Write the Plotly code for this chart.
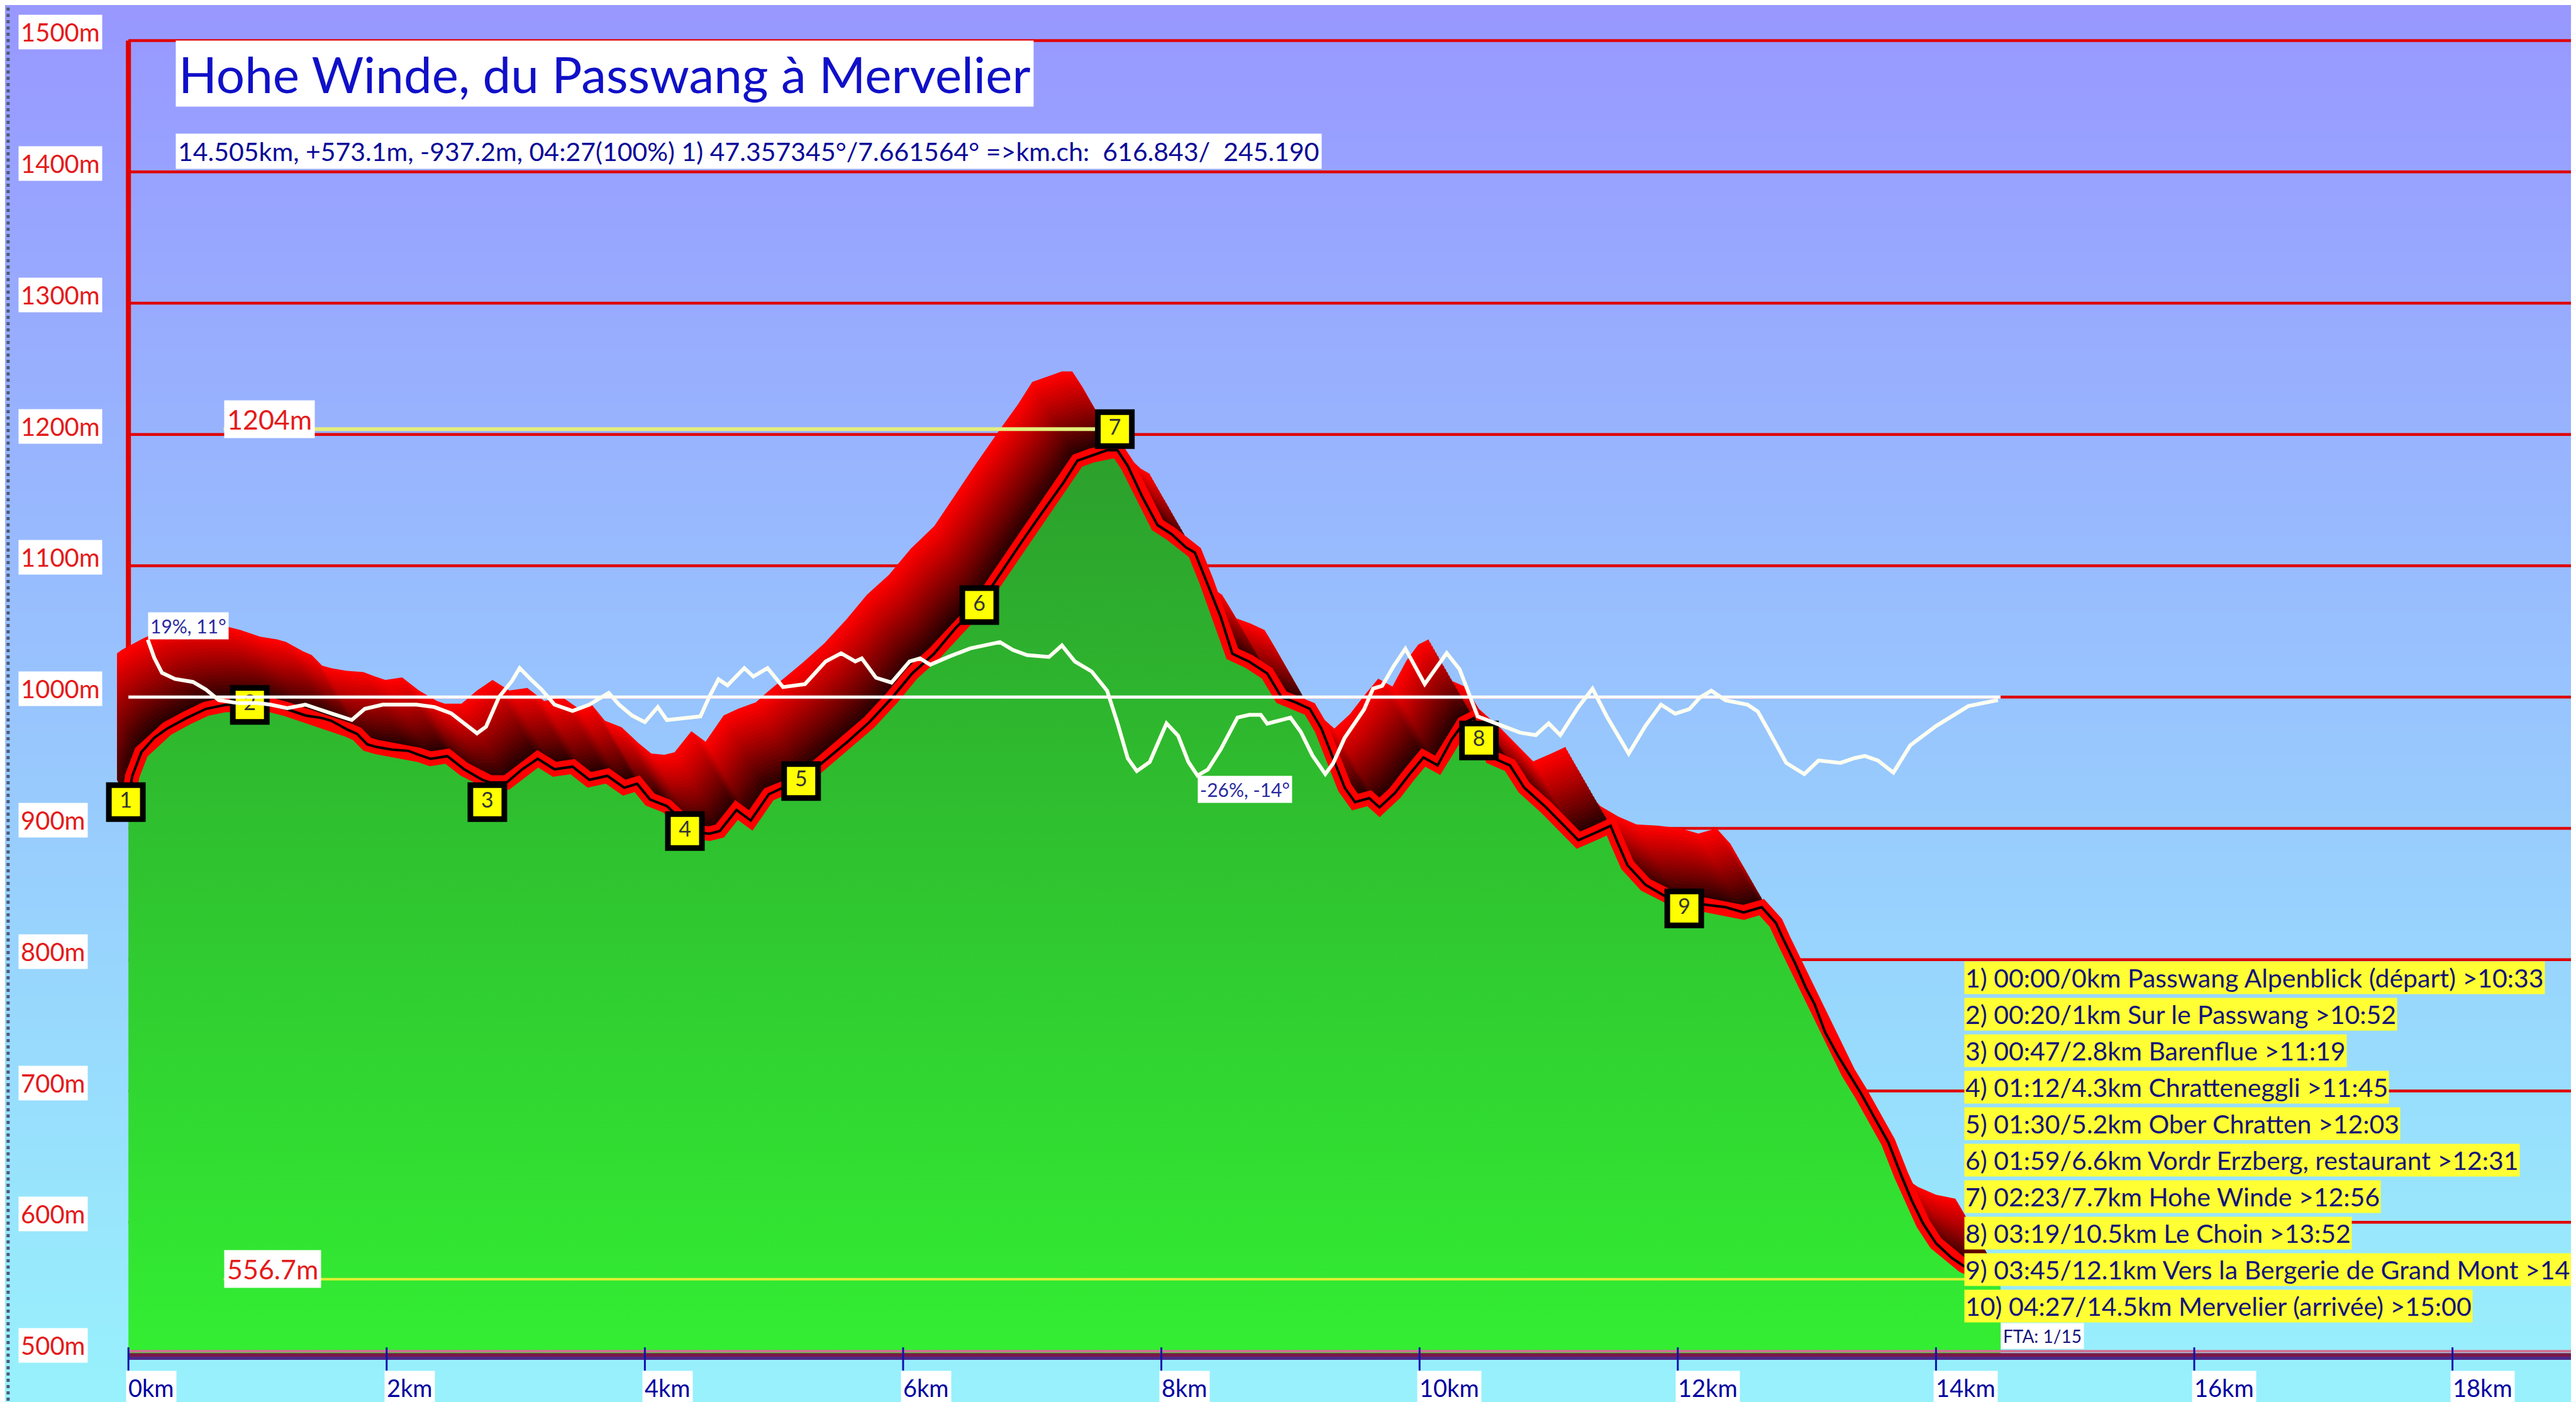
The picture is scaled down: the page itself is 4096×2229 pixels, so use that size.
import math, zlib, struct, base64
import plotly.graph_objects as go

# ---------------- data ----------------
profile_km = [0.00, 0.03, 0.10, 0.20, 0.30, 0.45, 0.60, 0.75, 0.93, 1.10, 1.22, 1.37, 1.50, 1.57, 1.70, 1.77, 1.85, 1.92, 2.04, 2.17,
              2.25, 2.34, 2.47, 2.60, 2.74, 2.80, 2.93, 3.05, 3.17, 3.30, 3.44, 3.57, 3.71, 3.84, 3.94, 4.04, 4.17, 4.30, 4.40, 4.50,
              4.58, 4.71, 4.82, 4.96, 5.07, 5.21, 5.30, 5.40, 5.57, 5.74, 5.91, 6.07, 6.24, 6.41, 6.59, 6.74, 6.91, 7.08, 7.24, 7.35,
              7.46, 7.58, 7.66, 7.74, 7.85, 7.97, 8.08, 8.19, 8.26, 8.35, 8.46, 8.55, 8.68, 8.82, 8.93, 9.04, 9.15, 9.24, 9.33, 9.42,
              9.50, 9.61, 9.69, 9.81, 9.92, 10.03, 10.14, 10.25, 10.34, 10.42, 10.48, 10.56, 10.70, 10.81, 10.98, 11.12, 11.23, 11.37,
              11.48, 11.53, 11.61, 11.75, 11.89, 12.03, 12.20, 12.37, 12.51, 12.65, 12.76, 12.82, 12.91, 12.99, 13.06, 13.14, 13.24,
              13.32, 13.42, 13.51, 13.63, 13.73, 13.81, 13.90, 14.00, 14.12, 14.21, 14.35, 14.50]
profile_elev = [922, 940, 958, 969, 976, 984, 991, 994, 995, 994, 991, 986, 984, 982, 975, 972, 964, 962, 960, 959,
                956, 953, 955, 945, 937, 935, 935, 945, 953, 945, 947, 937, 940, 931, 934, 922, 917, 905, 897, 896,
                898, 914, 906, 926, 931, 936, 944, 952, 966, 981, 999, 1018, 1033, 1053, 1070, 1092, 1117, 1141, 1163, 1180,
                1184, 1188, 1188, 1176, 1153, 1131, 1124, 1114, 1110, 1088, 1061, 1033, 1027, 1018, 1000, 996, 991, 976, 953, 931,
                920, 923, 916, 927, 941, 954, 948, 968, 980, 984, 968, 954, 948, 931, 916, 902, 891, 897,
                902, 890, 872, 857, 849, 843, 842, 840, 836, 840, 828, 815, 797, 779, 766, 745, 727,
                714, 698, 682, 661, 636, 617, 599, 584, 573, 567, 561, 558]

slope_km = [0.15, 0.20, 0.26, 0.36, 0.50, 0.60, 0.70, 0.85, 1.00, 1.10, 1.23, 1.37, 1.57, 1.73, 1.83, 1.97, 2.23, 2.37, 2.50, 2.60,
            2.70, 2.77, 2.87, 2.97, 3.03, 3.13, 3.20, 3.30, 3.44, 3.57, 3.72, 3.80, 3.90, 4.00, 4.10, 4.17, 4.30, 4.43, 4.50, 4.57,
            4.64, 4.77, 4.84, 4.95, 5.07, 5.24, 5.40, 5.52, 5.63, 5.68, 5.79, 5.91, 6.05, 6.13, 6.21, 6.35, 6.52, 6.63, 6.75, 6.85,
            6.96, 7.13, 7.23, 7.33, 7.46, 7.58, 7.66, 7.74, 7.81, 7.91, 8.04, 8.13, 8.21, 8.28, 8.36, 8.46, 8.59, 8.68, 8.77, 8.82,
            8.90, 9.00, 9.08, 9.17, 9.27, 9.33, 9.42, 9.57, 9.64, 9.71, 9.80, 9.89, 10.04, 10.21, 10.31, 10.45, 10.64, 10.78, 10.90, 11.00,
            11.09, 11.23, 11.34, 11.45, 11.62, 11.75, 11.87, 11.98, 12.09, 12.17, 12.26, 12.37, 12.54, 12.62, 12.70, 12.84, 12.98, 13.09,
            13.26, 13.37, 13.45, 13.55, 13.67, 13.80, 14.00, 14.25, 14.48]
slope_pct = [19, 13, 8, 6, 5, 2.5, -1, -2, -2, -2.5, -3.7, -2.5, -5.4, -7.6, -3.9, -2.5, -2.5, -3.3, -5.4, -8.9,
             -12, -9.8, 0, 5.3, 9.6, 5.3, 2.5, -2.5, -4.6, -2.5, 1.4, -2.5, -6.1, -8.3, -3.3, -7.6, -6.9, -6.4, 0.2, 5.9,
             3.9, 9.6, 6.8, 9.6, 3.3, 4.3, 11.8, 14.5, 11.8, 12.8, 6.4, 4.8, 11.8, 12.8, 10.7, 13.3, 16.1, 17.1, 18.2, 15.6,
             13.9, 13.3, 17.1, 11.8, 8.5, 2.1, -8.5, -20.3, -24.5, -21.5, -8.7, -12.8, -21.5, -26, -24, -17.3, -6.8, -5.9, -5.9, -8.8,
             -7.8, -6.8, -11.5, -19.3, -25.5, -22, -13.5, -4.1, 2.8, 3.7, 10.3, 16, 4.3, 14.6, 9.2, -6.4, -9.5, -11.8, -12.6, -8.7,
             -12.6, -3.3, 2.8, -6.4, -18.7, -9.5, -2.5, -5.5, -4, -0.2, 2.1, -1.1, -2.5, -4.8, -10.9, -21.8, -25.5, -21,
             -21.8, -20.2, -19.5, -21, -25, -16, -9.6, -3, -1]
slope_labels = ["19%, 11°", "-26%, -14°"]

# visible waypoint markers (no. 10 lies under the legend box)
marker_km = [-0.02, 0.94, 2.78, 4.31, 5.21, 6.59, 7.64, 10.46, 12.05]
marker_elev = [920, 994, 920, 898, 936, 1070, 1204, 967, 839]
marker_label = ["1", "2", "3", "4", "5", "6", "7", "8", "9"]

wp_num = ["1", "2", "3", "4", "5", "6", "7", "8", "9", "10"]
wp_time = ["00:00", "00:20", "00:47", "01:12", "01:30", "01:59", "02:23", "03:19", "03:45", "04:27"]
wp_dist = ["0km", "1km", "2.8km", "4.3km", "5.2km", "6.6km", "7.7km", "10.5km", "12.1km", "14.5km"]
wp_name = ["Passwang Alpenblick (départ)", "Sur le Passwang", "Barenflue", "Chratteneggli", "Ober Chratten",
           "Vordr Erzberg, restaurant", "Hohe Winde", "Le Choin", "Vers la Bergerie de Grand Mont", "Mervelier (arrivée)"]
wp_clock = ["10:33", "10:52", "11:19", "11:45", "12:03", "12:31", "12:56", "13:52", "14:18", "15:00"]

y_ticks = [500, 600, 700, 800, 900, 1000, 1100, 1200, 1300, 1400, 1500]
y_tick_text = ["500m", "600m", "700m", "800m", "900m", "1000m", "1100m", "1200m", "1300m", "1400m", "1500m"]
x_ticks = [0, 2, 4, 6, 8, 10, 12, 14, 16, 18]
x_tick_text = ["0km", "2km", "4km", "6km", "8km", "10km", "12km", "14km", "16km", "18km"]

elev_max = 1204
elev_min = 556.7
ref_text = ["1204m", "556.7m"]

title_text = "Hohe Winde, du Passwang à Mervelier"
subtitle_text = "14.505km, +573.1m, -937.2m, 04:27(100%) 1) 47.357345°/7.661564° =>km.ch:  616.843/  245.190"
fta_text = "FTA: 1/15"

# ---------------- geometry / style ----------------
W, H = 4096, 2229
FONT = "Lato"
X_LEFT_PX = 178.0
PX_PER_KM = 205.3
X0_PX = 196.2
XMIN = -(X0_PX - X_LEFT_PX) / PX_PER_KM
XMAX = (W - X0_PX) / PX_PER_KM
PX_PER_M = 2.0877
Y500_PX = 2144.1
YMIN = 500 - (H - Y500_PX) / PX_PER_M
YMAX = 500 + Y500_PX / PX_PER_M
M_PER_PCT = 2.3
Y2MIN = (YMIN - 1000) / M_PER_PCT
Y2MAX = (YMAX - 1000) / M_PER_PCT


def gradient_png(top, bottom, h=128, w=4):
    rows = []
    for i in range(h):
        f = i / (h - 1)
        rgb = bytes(int(round(top[k] + (bottom[k] - top[k]) * f)) for k in range(3))
        rows.append(b"\x00" + rgb * w)
    raw = b"".join(rows)

    def chunk(tag, data):
        return struct.pack(">I", len(data)) + tag + data + struct.pack(">I", zlib.crc32(tag + data) & 0xffffffff)

    png = (b"\x89PNG\r\n\x1a\n" + chunk(b"IHDR", struct.pack(">IIBBBBB", w, h, 8, 2, 0, 0, 0))
           + chunk(b"IDAT", zlib.compress(raw)) + chunk(b"IEND", b""))
    return "data:image/png;base64," + base64.b64encode(png).decode()


fig = go.Figure()

# 3D ribbon (extruded profile, red on top to black next to the line)
N = 24
DX, DY = 0.35, 60.0
for i in range(N, 0, -1):
    t = i / N
    xs = [k - DX * t for k in profile_km] + profile_km[::-1]
    ys = [e + DY * t for e in profile_elev] + profile_elev[::-1]
    r = int(round(255 * t ** 0.85))
    fig.add_trace(go.Scatter(x=xs, y=ys, fill="toself", fillcolor=f"rgb({r},0,0)", mode="lines",
                             line=dict(width=0), hoverinfo="skip", showlegend=False))

# green terrain
fig.add_trace(go.Scatter(
    x=profile_km + [profile_km[-1], profile_km[0]],
    y=profile_elev + [500, 500],
    fill="toself", mode="lines", line=dict(width=0),
    fillgradient=dict(type="vertical", colorscale=[[0, "#33EE33"], [1, "#2C9E2C"]], start=500, stop=1200),
    hoverinfo="skip", showlegend=False))

# profile line: thick red with black core
fig.add_trace(go.Scatter(x=profile_km, y=profile_elev, mode="lines",
                         line=dict(color="#FF0000", width=23), hoverinfo="skip", showlegend=False))
fig.add_trace(go.Scatter(x=profile_km, y=profile_elev, mode="lines",
                         line=dict(color="#000000", width=4), hoverinfo="skip", showlegend=False))

# max / min reference lines
fig.add_trace(go.Scatter(x=[0.737, marker_km[6]], y=[elev_max, elev_max], mode="lines",
                         line=dict(color="#E4EE7C", width=6), hoverinfo="skip", showlegend=False))
fig.add_trace(go.Scatter(x=[0.737, profile_km[-1]], y=[elev_min, elev_min], mode="lines",
                         line=dict(color="#E2F030", width=4), hoverinfo="skip", showlegend=False))

# slope curve (secondary axis, 0% at 1000 m)
fig.add_trace(go.Scatter(x=[profile_km[0], profile_km[-1]], y=[0, 0], yaxis="y2", mode="lines",
                         line=dict(color="#FFFFFF", width=5), hoverinfo="skip", showlegend=False))
fig.add_trace(go.Scatter(x=slope_km, y=slope_pct, yaxis="y2", mode="lines",
                         line=dict(color="#FFFFF2", width=6), hoverinfo="skip", showlegend=False))

# waypoint markers
fig.add_trace(go.Scatter(x=marker_km, y=marker_elev, mode="markers+text", cliponaxis=False,
                         marker=dict(symbol="square", size=54, color="#FFFF00", line=dict(color="#000000", width=9)),
                         text=marker_label, textposition="middle center",
                         textfont=dict(family=FONT, size=34, color="#333333"),
                         hoverinfo="skip", showlegend=False))

shapes = []
# red gridlines
for v in y_ticks[1:]:
    shapes.append(dict(type="line", xref="x", yref="y", x0=0, x1=XMAX + 1, y0=v, y1=v,
                       line=dict(color="#E00000", width=4.5), layer="below"))
# left red axis line
shapes.append(dict(type="line", xref="x", yref="y", x0=0, x1=0, y0=profile_elev[0], y1=y_ticks[-1],
                   line=dict(color="#E00000", width=8), layer="below"))
# bottom axis bar
shapes.append(dict(type="line", xref="x", yref="y", x0=0, x1=XMAX + 1, y0=501.8, y1=501.8,
                   line=dict(color="#D07090", width=4), layer="above"))
shapes.append(dict(type="line", xref="x", yref="y", x0=0, x1=XMAX + 1, y0=499.0, y1=499.0,
                   line=dict(color="#7A1848", width=6), layer="above"))
shapes.append(dict(type="line", xref="x", yref="y", x0=0, x1=XMAX + 1, y0=496.4, y1=496.4,
                   line=dict(color="#4A2A8A", width=5), layer="above"))
# x ticks
for xt in x_ticks:
    shapes.append(dict(type="line", xref="x", yref="y", x0=xt, x1=xt, ysizemode="pixel", yanchor=500,
                       y0=-27, y1=10, line=dict(color="#1010B0", width=3), layer="above"))
# dotted left border
shapes.append(dict(type="line", xref="paper", yref="paper", x0=0.0012, x1=0.0012, y0=0, y1=1,
                   line=dict(color="#505A78", width=5, dash="dot"), layer="above"))

ann = []
# y labels
for v, txt in zip(y_ticks, y_tick_text):
    ann.append(dict(xref="paper", x=20.6 / W, xanchor="left", yref="y", y=v, yanchor="middle", yshift=13,
                    text=txt, showarrow=False, bgcolor="#FFFFFF", borderpad=3,
                    font=dict(family=FONT, size=40, color="#E41B1B")))
# x labels
for xt, txt in zip(x_ticks, x_tick_text):
    ann.append(dict(xref="x", x=xt, xanchor="left", xshift=-4, yref="y", y=500, yanchor="top", yshift=-27,
                    text=txt, showarrow=False, bgcolor="#FFFFFF", borderpad=3,
                    font=dict(family=FONT, size=38, color="#0000A0")))
# max/min labels
for v, txt in zip([elev_max, elev_min], ref_text):
    ann.append(dict(xref="x", x=0.737, xanchor="left", yref="y", y=v, yanchor="middle", yshift=16,
                    text=txt, showarrow=False, bgcolor="#FFFFFF", borderpad=4,
                    font=dict(family=FONT, size=43, color="#E41B1B")))
# slope labels
imax = max(range(len(slope_pct)), key=lambda i: slope_pct[i])
imin = min(range(len(slope_pct)), key=lambda i: slope_pct[i])
ann.append(dict(xref="x", x=slope_km[imax], xanchor="left", yref="y2", y=slope_pct[imax], yanchor="bottom",
                text=slope_labels[0], showarrow=False, bgcolor="#FFFFFF", borderpad=3,
                font=dict(family=FONT, size=30, color="#2A2AA0")))
ann.append(dict(xref="x", x=slope_km[imin], xanchor="left", yref="y2", y=slope_pct[imin], yanchor="top",
                text=slope_labels[1], showarrow=False, bgcolor="#FFFFFF", borderpad=3,
                font=dict(family=FONT, size=30, color="#2A2AA0")))
# title and subtitle
ann.append(dict(xref="paper", x=270.6 / W, xanchor="left", yref="paper", y=1 - 109.4 / H, yanchor="middle",
                text=title_text, showarrow=False, bgcolor="#FFFFFF", borderpad=4,
                font=dict(family=FONT, size=80, color="#1010C8")))
ann.append(dict(xref="paper", x=270.6 / W, xanchor="left", yref="paper", y=1 - 233 / H, yanchor="middle",
                text=subtitle_text, showarrow=False, bgcolor="#FFFFFF", borderpad=3,
                font=dict(family=FONT, size=41, color="#0A0A98")))
# waypoint legend
for i in range(len(wp_time)):
    row = f"{wp_num[i]}) {wp_time[i]}/{wp_dist[i]} {wp_name[i]} >{wp_clock[i]}"
    ann.append(dict(xref="paper", x=3115 / W, xanchor="left", yref="paper", y=1 - (1546.5 + i * 58.05) / H,
                    yanchor="middle", text=row, showarrow=False, bgcolor="#FFFF33", borderpad=1,
                    font=dict(family=FONT, size=41, color="#14147A")))
# FTA
ann.append(dict(xref="x", x=profile_km[-1], xanchor="left", yref="y", y=513.5, yanchor="middle",
                text=fta_text, showarrow=False, bgcolor="#FFFFFF", borderpad=3,
                font=dict(family=FONT, size=28, color="#14147A")))

fig.update_layout(
    width=W, height=H, margin=dict(l=0, r=0, t=0, b=0),
    paper_bgcolor="#99C8FB", plot_bgcolor="rgba(0,0,0,0)", showlegend=False,
    xaxis=dict(domain=[X_LEFT_PX / W, 1], range=[XMIN, XMAX], visible=False, fixedrange=True),
    yaxis=dict(domain=[0, 1], range=[YMIN, YMAX], visible=False, fixedrange=True),
    yaxis2=dict(overlaying="y", range=[Y2MIN, Y2MAX], visible=False, fixedrange=True),
    images=[dict(source=gradient_png((152, 152, 255), (152, 242, 252)), xref="paper", yref="paper",
                 x=0, y=1, sizex=1, sizey=1, sizing="stretch", xanchor="left", yanchor="top", layer="below")],
    shapes=shapes, annotations=ann,
)

fig.write_html("out.html")
